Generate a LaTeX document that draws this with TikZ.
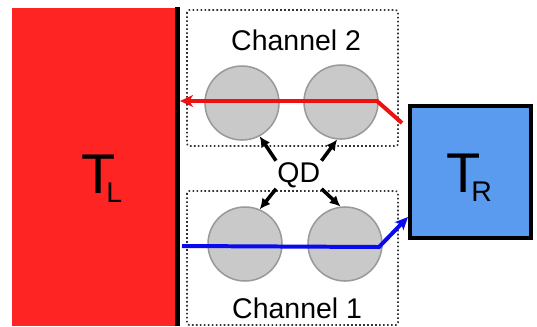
\documentclass[tikz,border=0pt]{standalone}
\usepackage{fontspec}
\setmainfont{Liberation Sans}
\usetikzlibrary{arrows.meta}
\definecolor{leadred}{HTML}{FF2424}
\definecolor{leadblue}{HTML}{5B9BEF}
\definecolor{linered}{HTML}{EE1111}
\definecolor{lineblue}{HTML}{0A0AEE}
\definecolor{dotgray}{HTML}{C9C9C9}
\newcommand{\chanfont}{\fontsize{24.3}{25}\selectfont}
\newcommand{\leadlabel}[2]{{\fontsize{47.8}{48}\selectfont #1}\hspace{-0.27cm}\raisebox{-0.27cm}{\chanfont #2}}
\tikzset{
  qdot/.style={circle,draw=black!40,fill=dotgray,line width=1.3pt,minimum size=2.22cm,inner sep=0pt},
  chanbox/.style={draw=black!80,dotted,line width=1.4pt,rounded corners=2pt},
  current/.style={line width=3.4pt,-{Stealth[length=11pt,width=10pt,inset=3pt]}},
  pointer/.style={line width=3pt,-{Latex[length=9pt,width=9pt]}},
  txt/.style={inner sep=0pt,anchor=base west,font=\chanfont},
}
\begin{document}
\begin{tikzpicture}[x=0.03cm,y=-0.03cm]
\useasboundingbox (0,0) rectangle (537,326);
% leads
\node[fill=leadred,minimum width=4.89cm,minimum height=9.54cm,inner sep=0pt,anchor=north west] (tl) at (12,8) {};
\draw[line width=4pt] (177.5,7) -- (177.5,326);
\node[draw,line width=4pt,fill=leadblue,minimum width=3.63cm,minimum height=3.96cm,inner sep=0pt] (tr) at (470.5,172) {};
\node[txt] (tltext) at (81,193) {\leadlabel{T}{L}};
\node[txt] (trtext) at (446,192) {\leadlabel{T}{R}};
% channels
\draw[chanbox] (187,10) rectangle (398,146);
\draw[chanbox] (187,191) rectangle (398,325);
\node[txt] (ch2) at (231,50) {Channel 2};
\node[txt] (ch1) at (232,318) {Channel 1};
% dots
\node[qdot] (d2a) at (242,103) {};
\node[qdot] (d2b) at (341,102) {};
\node[qdot] (d1a) at (245,244) {};
\node[qdot] (d1b) at (345,244) {};
\node[txt,inner sep=1pt] (qd) at (276,182) {QD};
\draw[pointer] (qd.north west) -- (d2a.298);
\draw[pointer] (qd.north east) -- (d2b.264);
\draw[pointer] (qd.south west) -- (d1a.67);
\draw[pointer] (qd.south east) -- (d1b.97);
% currents
\coordinate (rin) at (402,123);
\coordinate (rkink) at (377,101);
\coordinate (rout) at (180,101);
\draw[current,linered] (rin) -- (rkink) -- (rout);
\coordinate (bin) at (182,246);
\coordinate (bkink) at (379,247);
\coordinate (bout) at (408,217);
\draw[current,lineblue] (bin) -- (bkink) -- (bout);
\end{tikzpicture}
\end{document}
